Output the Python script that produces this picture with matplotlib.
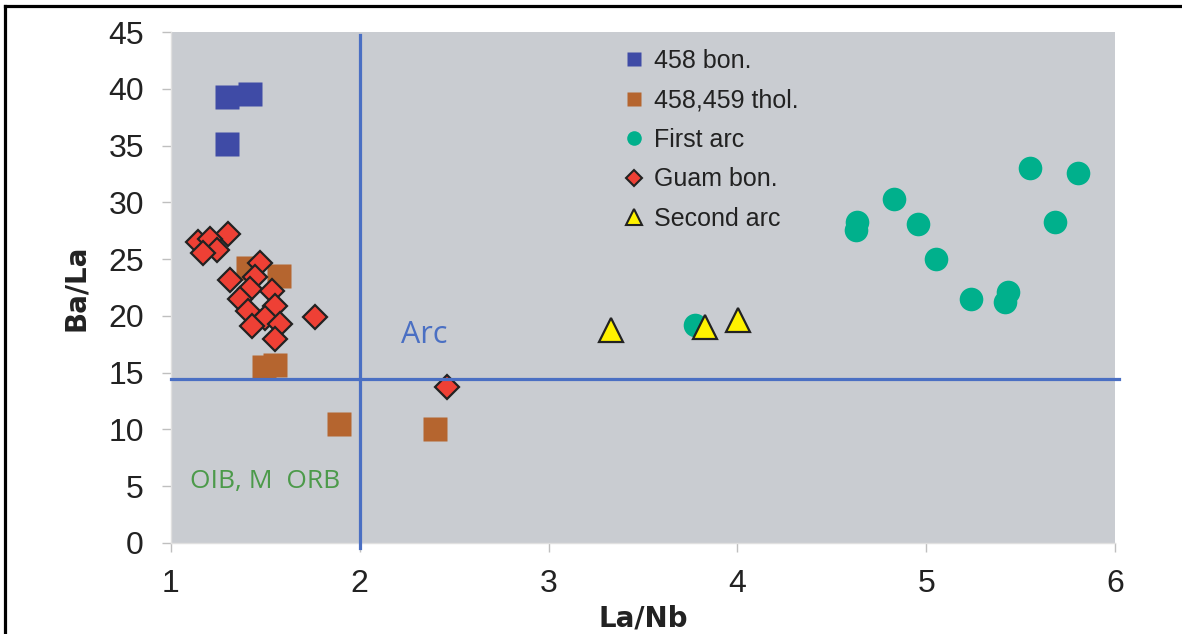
import matplotlib
matplotlib.use("Agg")
import matplotlib.pyplot as plt
from matplotlib.lines import Line2D

# ---- data ----
bon458_x = [1.295, 1.419, 1.295]
bon458_y = [39.3, 39.5, 35.1]

thol_x = [1.41, 1.574, 1.49, 1.55, 1.891, 2.40]
thol_y = [24.2, 23.5, 15.5, 15.7, 10.5, 10.0]

first_x = [4.636, 4.627, 4.827, 4.957, 5.051, 5.236, 5.434, 5.418, 5.551, 5.802, 5.683, 3.778]
first_y = [28.3, 27.6, 30.3, 28.1, 25.0, 21.5, 22.1, 21.2, 33.0, 32.6, 28.3, 19.2]

guam_x = [1.145, 1.304, 1.207, 1.242, 1.172, 1.472, 1.313, 1.445, 1.419, 1.537,
          1.366, 1.551, 1.410, 1.498, 1.428, 1.578, 1.551, 1.764, 2.462]
guam_y = [26.5, 27.2, 26.8, 25.8, 25.5, 24.7, 23.2, 23.4, 22.4, 22.2,
          21.5, 20.9, 20.4, 19.8, 19.1, 19.3, 18.0, 19.9, 13.7]

second_x = [3.331, 3.831, 4.003]
second_y = [18.8, 19.0, 19.6]

labels = ["458 bon.", "458,459 thol.", "First arc", "Guam bon.", "Second arc"]
x_ticks = [1, 2, 3, 4, 5, 6]
y_ticks = [0, 5, 10, 15, 20, 25, 30, 35, 40, 45]

arc_ba_la = 14.4   # horizontal divider
arc_la_nb = 2.0    # vertical divider

# ---- style ----
c_blue = "#3F4BA6"
c_brown = "#B5652F"
c_green = "#00B08C"
c_red = "#EE4035"
c_yellow = "#FFF200"
c_line = "#4A6FC3"
c_bg = "#C9CCD1"

plt.rcParams['font.family'] = ['Liberation Sans', 'DejaVu Sans']

fig = plt.figure(figsize=(11.82, 6.34), dpi=100)
ax = fig.add_axes([171/1182, 1-543/634, (1115-171)/1182, (543-32)/634])
ax.set_facecolor(c_bg)

ax.plot(bon458_x, bon458_y, 's', ms=17, color=c_blue, mec='none', zorder=3)
ax.plot(thol_x, thol_y, 's', ms=17, color=c_brown, mec='none', zorder=3)
ax.plot(first_x, first_y, 'o', ms=17, color=c_green, mec='none', zorder=3)
ax.plot(guam_x, guam_y, 'D', ms=12.5, color=c_red, mec='#222222', mew=1.6, zorder=4)
ax.plot(second_x, second_y, '^', ms=17, color=c_yellow, mec='#222222', mew=1.6, zorder=4)

ax.axhline(arc_ba_la, xmin=0, xmax=1.004, color=c_line, lw=2.3, zorder=5, clip_on=False)
ax.plot([arc_la_nb, arc_la_nb], [-0.45, 44.7], color=c_line, lw=2.3, zorder=5, clip_on=False)

ax.set_xlim(1, 6)
ax.set_ylim(0, 45)
ax.set_xticks(x_ticks)
ax.set_yticks(y_ticks)
ax.tick_params(axis='both', labelsize=23, colors='#BFBFBF', labelcolor='#222222',
               length=6.5, width=1, direction='out')
ax.tick_params(axis='y', pad=13)
ax.tick_params(axis='x', pad=12)
for s in ['top', 'right']:
    ax.spines[s].set_visible(False)
for s in ['left', 'bottom']:
    ax.spines[s].set_color('#E0E0E0')
    ax.spines[s].set_linewidth(1)

lab_font = ['DejaVu Sans']
ax.set_xlabel("La/Nb", fontsize=20, fontweight='bold', color='#222222', family=lab_font)
ax.set_ylabel("Ba/La", fontsize=20, fontweight='bold', color='#222222', family=lab_font)
ax.xaxis.set_label_coords(0.5, -0.121)
ax.yaxis.set_label_coords(-0.086, 0.5)

ax.text(2.342, 18.3, "Arc", fontsize=22, color=c_line, family=['Open Sans', 'DejaVu Sans'],
        ha='center', va='center', zorder=6)
ax.text(1.498, 5.4, "OIB, M  ORB", fontsize=19, color='#4C9A4A',
        family=['Open Sans', 'DejaVu Sans'], ha='center', va='center', zorder=6)

handles = [
    Line2D([], [], ls='none', marker='s', ms=10.5, color=c_blue, mec='none'),
    Line2D([], [], ls='none', marker='s', ms=10.5, color=c_brown, mec='none'),
    Line2D([], [], ls='none', marker='o', ms=10.5, color=c_green, mec='none'),
    Line2D([], [], ls='none', marker='D', ms=8, color=c_red, mec='#222222', mew=1.5),
    Line2D([], [], ls='none', marker='^', ms=11, color=c_yellow, mec='#222222', mew=1.5),
]
leg = ax.legend(handles, labels, loc='upper left', bbox_to_anchor=(0.477, 0.967),
                frameon=False, fontsize=18, handlelength=1.0, handletextpad=0.3,
                labelspacing=0.62, borderpad=0, borderaxespad=0)
for t in leg.get_texts():
    t.set_color('#222222')

# outer frame (left and top edges)
fig.add_artist(Line2D([4.5/1182, 4.5/1182], [0, 1-5.5/634], color='black', lw=2.3,
                      transform=fig.transFigure))
fig.add_artist(Line2D([4.5/1182, 1], [1-5.5/634, 1-5.5/634], color='black', lw=2.3,
                      transform=fig.transFigure))

fig.savefig("out.png", dpi=100)
